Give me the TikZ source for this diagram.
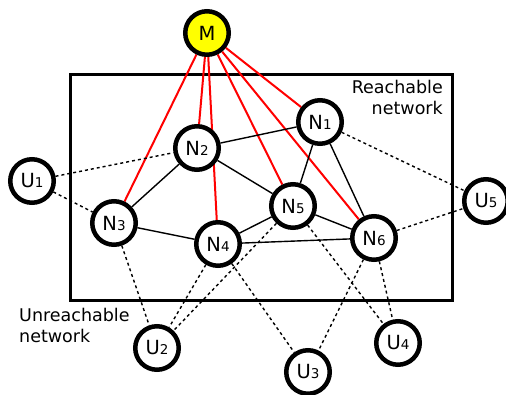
\documentclass[tikz,border=0pt]{standalone}
\usepackage{fontspec}
\setmainfont{DejaVu Sans}
\usetikzlibrary{backgrounds}
\newcommand\nsub[1]{{\fontsize{13.5}{12}\selectfont #1}}
\definecolor{myyellow}{RGB}{255,255,0}
\definecolor{myred}{RGB}{255,0,0}
\begin{document}
\begin{tikzpicture}[x=1pt,y=-1pt,
  netnode/.style={circle,draw=black,line width=4.5pt,fill=white,minimum size=43.5pt,inner sep=0pt,font=\fontsize{19.5}{19.5}\selectfont},
  rededge/.style={draw=myred,line width=2pt},
  solidedge/.style={draw=black,line width=1.4pt},
  dotedge/.style={draw=black,line width=1.4pt,dash pattern=on 3pt off 3pt},
  lbl/.style={inner sep=0pt,font=\fontsize{17.5}{21.5}\selectfont}]
\useasboundingbox (0,0) rectangle (506,395);
\node[netnode,fill=myyellow] (M) at (207,33) {M};
\node[netnode] (N1) at (320,122) {N\nsub{1}};
\node[netnode] (N2) at (197,148) {N\nsub{2}};
\node[netnode] (N3) at (114,223) {N\nsub{3}};
\node[netnode] (N4) at (218,244) {N\nsub{4}};
\node[netnode] (N5) at (293,206) {N\nsub{5}};
\node[netnode] (N6) at (374,238) {N\nsub{6}};
\node[netnode] (U1) at (32,181) {U\nsub{1}};
\node[netnode] (U2) at (157,348) {U\nsub{2}};
\node[netnode] (U3) at (308,372) {U\nsub{3}};
\node[netnode] (U4) at (398,343) {U\nsub{4}};
\node[netnode] (U5) at (486,201) {U\nsub{5}};
\node[lbl,align=right,anchor=north east] (reach) at (443,80) {Reachable\\network};
\node[lbl,align=left,anchor=north west] (unreach) at (19,308) {Unreachable\\network};
\begin{scope}[on background layer]
\draw[line width=3pt] (70,75) rectangle (452,301);
\foreach \n in {N1,N2,N3,N4,N5,N6} \draw[rededge] (M) -- (\n);
\foreach \a/\b in {N2/N1,N2/N3,N2/N5,N1/N5,N1/N6,N3/N4,N4/N5,N4/N6,N5/N6}
  \draw[solidedge] (\a) -- (\b);
\foreach \a/\b in {U1/N2,U1/N3,N1/U5,N6/U5,N3/U2,N4/U2,N5/U2,N4/U3,N6/U3,N5/U4,N6/U4}
  \draw[dotedge] (\a) -- (\b);
\end{scope}
\end{tikzpicture}
\end{document}
